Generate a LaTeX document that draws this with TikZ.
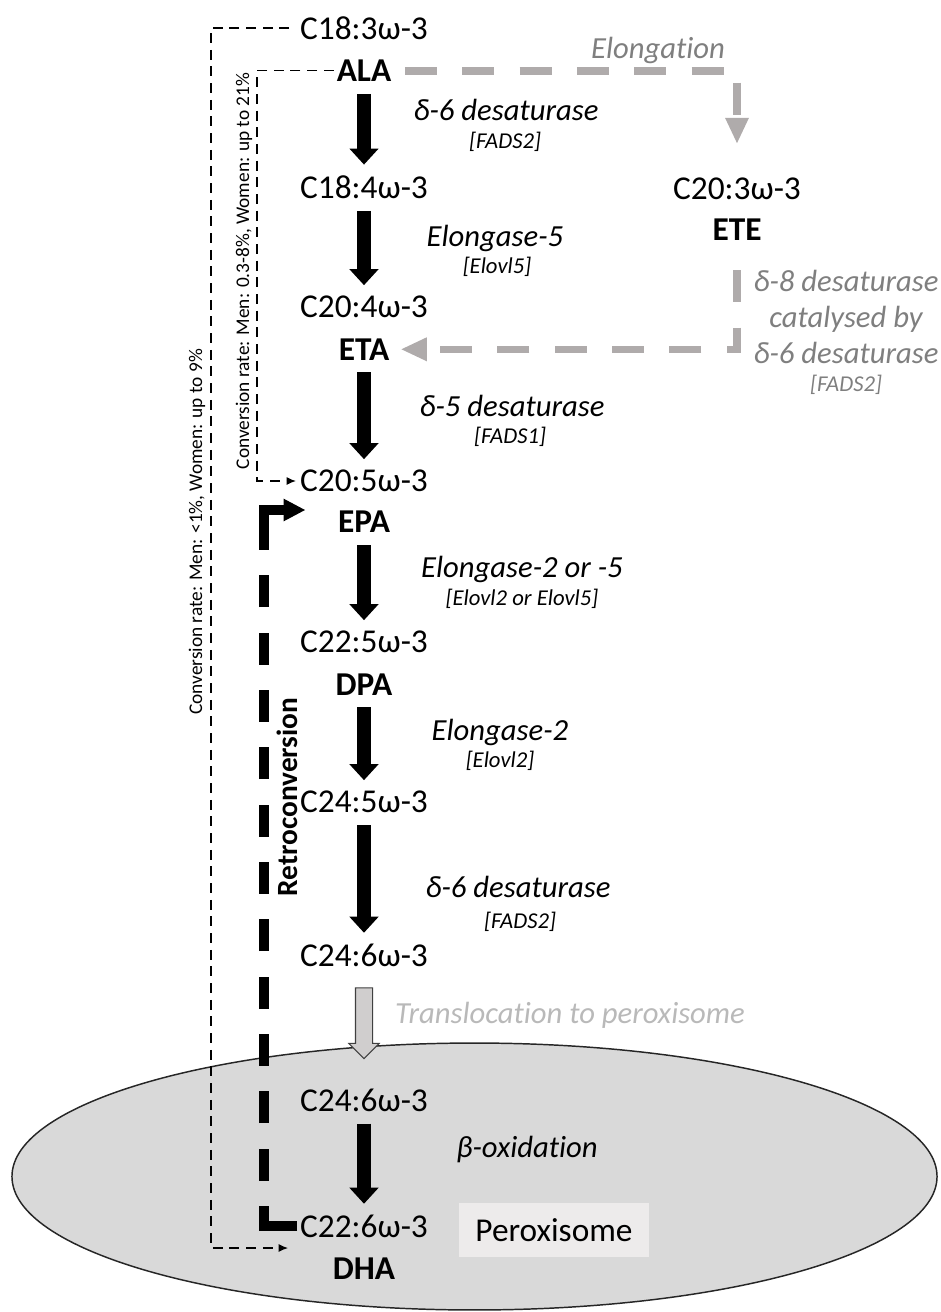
\documentclass[tikz,border=0pt]{standalone}
\usepackage{fontspec}
\setmainfont{Carlito}[Ligatures={NoCommon,NoRare}]
\definecolor{pathgrey}{RGB}{175,171,171}
\definecolor{labelgrey}{RGB}{127,127,127}
\definecolor{translocgrey}{RGB}{185,185,185}
\definecolor{cellgrey}{RGB}{217,217,217}
\definecolor{boxgrey}{RGB}{237,235,235}
\definecolor{arrowgrey}{RGB}{208,206,206}
\usetikzlibrary{arrows.meta}
\usetikzlibrary{positioning}
\usetikzlibrary{shapes.arrows}
\tikzset{
  acid/.style={inner sep=0pt, font=\fontsize{25}{30}\selectfont},
  acidname/.style={inner sep=0pt, font=\fontsize{25}{30}\selectfont\bfseries},
  enzyme/.style={inner sep=0pt, font=\fontsize{23}{27}\selectfont\itshape},
  gene/.style={inner sep=0pt, font=\fontsize{17}{20}\selectfont\itshape},
  reaction/.style={line width=11pt, -{Triangle[width=22pt,length=12pt,line width=0pt]}, shorten <=9pt, shorten >=8pt},
  side path/.style={pathgrey, line width=5.5pt, dash pattern=on 24pt off 19pt, -{Triangle[width=18pt,length=19pt,line width=0pt]}},
  rate line/.style={line width=0.9pt, dash pattern=on 7.5pt off 5pt, -{Latex[length=7pt,width=6pt]}},
  rate label/.style={inner sep=0pt, rotate=90, font=\fontsize{14.5}{17}\selectfont},
  retro line/.style={line width=7pt, -{Triangle[width=17pt,length=16pt,line width=0pt]},
    dash pattern=on 40pt off 19pt on 24pt off 19pt on 24pt off 19pt on 24pt off 19pt on 24pt off 19pt on 24pt off 19pt on 24pt off 19pt on 24pt off 19pt on 24pt off 19pt on 24pt off 19pt on 24pt off 19pt on 24pt off 19pt on 80pt off 10pt},
  retro label/.style={inner sep=0pt, rotate=90, font=\fontsize{22}{26}\selectfont\bfseries},
  transloc arrow/.style={single arrow, draw=black!75, fill=arrowgrey, line width=0.8pt, inner sep=6pt, minimum height=53pt, single arrow head extend=5pt, rotate=-90}
}

\begin{document}
\begin{tikzpicture}[x=0.75pt, y=-0.75pt]
  \useasboundingbox (0,0) rectangle (941,1312);

  % peroxisome
  \draw [fill=cellgrey, line width=1.1pt, draw=black!85] (474.5,1176.5) ellipse [x radius=346.9pt, y radius=100.1pt];
  \node [fill=boxgrey, minimum width=143pt, minimum height=40.5pt, inner sep=0pt, font=\fontsize{25}{30}\selectfont] (peroxlabel) at (554,1230) {Peroxisome};

  % fatty acids
  \node [acid] (c183) at (364,28) {C18:3ω-3};
  \node [acidname, below=15pt of c183] (ala) {ALA};
  \node [acid] (c184) at (364,187) {C18:4ω-3};
  \node [acid] (c204) at (364,307) {C20:4ω-3};
  \node [acidname, below=15pt of c204] (eta) {ETA};
  \node [acid] (c205) at (364,481) {C20:5ω-3};
  \node [acidname, below=14pt of c205] (epa) {EPA};
  \node [acid] (c225) at (364,642) {C22:5ω-3};
  \node [acidname, below=15pt of c225] (dpa) {DPA};
  \node [acid] (c245) at (364,802) {C24:5ω-3};
  \node [acid] (c246) at (364,955) {C24:6ω-3};
  \node [acid] (c246p) at (364,1100) {C24:6ω-3};
  \node [acid] (c226) at (364,1226) {C22:6ω-3};
  \node [acidname, below=15pt of c226] (dha) {DHA};
  \node [acid] (c203) at (737,189) {C20:3ω-3};
  \node [acidname, below=14pt of c203] (ete) {ETE};

  % enzymes
  \node [enzyme] (e1) at (506,110) {δ-6 desaturase};
  \node [gene] (g1) at (505,142) {[FADS2]};
  \node [enzyme] (e2) at (495,238) {Elongase-5};
  \node [gene] (g2) at (497,267) {[Elovl5]};
  \node [enzyme] (e3) at (512,406) {δ-5 desaturase};
  \node [gene] (g3) at (510,437) {[FADS1]};
  \node [enzyme] (e4) at (522,569) {Elongase-2 or -5};
  \node [gene] (g4) at (522,599) {[Elovl2 or Elovl5]};
  \node [enzyme] (e5) at (500,732) {Elongase-2};
  \node [gene] (g5) at (500,761) {[Elovl2]};
  \node [enzyme] (e6) at (518,887) {δ-6 desaturase};
  \node [gene] (g6) at (520,922) {[FADS2]};
  \node [enzyme] (e7) at (527,1149) {β-oxidation};

  % basic process
  \draw [reaction] (ala) -- (c184);
  \draw [reaction] (c184) -- (c204);
  \draw [reaction] (eta) -- (c205);
  \draw [reaction] (epa) -- (c225);
  \draw [reaction] (dpa) -- (c245);
  \draw [reaction] (c245) -- (c246);
  \draw [reaction] (c246p) -- (c226);

  % translocation
  \path (c246) -- (c246p) node [transloc arrow, pos=0.43] (transarrow) {};
  \node [enzyme, translocgrey] (transloclabel) at (570,1015) {Translocation to peroxisome};

  % side route through ETE
  \draw [side path, shorten <=10pt, shorten >=26pt] (ala.east) -| (c203.north);
  \draw [side path, shorten <=22pt, shorten >=9pt] (ete.south) |- (eta.east);
  \node [enzyme, labelgrey] (elonglabel) at (658,50) {Elongation};
  \node [enzyme, labelgrey, align=center, font=\fontsize{23}{27}\selectfont\itshape] (d8label) at (846,317) {δ-8 desaturase\\catalysed by\\δ-6 desaturase};
  \node [gene, labelgrey, below=8pt of d8label] (d8gene) {[FADS2]};

  % conversion rates
  \coordinate (outerbend) at (211,1248);
  \coordinate (dhatip) at (288,1248);
  \draw [rate line, shorten <=8pt] (c183.west) -| (outerbend) -- (dhatip);
  \coordinate (innerbend) at (257,481);
  \draw [rate line, shorten <=2pt, shorten >=3pt] (ala.west) -| (innerbend) -- (c205.west);
  \node [rate label] (outerrate) at (197,532) {Conversion rate: Men: <1\%, Women: up to 9\%};
  \node [rate label] (innerrate) at (244,271) {Conversion rate: Men: 0.3-8\%, Women: up to 21\%};

  % retroconversion
  \coordinate (retrobend) at (264,510);
  \coordinate (retrotip) at (305,510);
  \draw [retro line, shorten <=2pt] (c226.west) -| (retrobend) -- (retrotip);
  \node [retro label] (retrolabel) at (287,797) {Retroconversion};
\end{tikzpicture}
\end{document}
